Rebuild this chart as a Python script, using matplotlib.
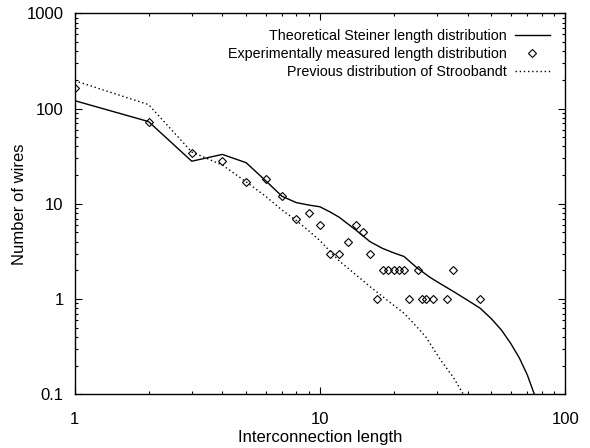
import matplotlib
matplotlib.use("Agg")
import matplotlib.pyplot as plt
from matplotlib.ticker import FuncFormatter, LogLocator

plt.rcParams['font.family'] = ['Liberation Sans', 'DejaVu Sans']

# Theoretical Steiner length distribution
theo_x = [1, 2, 3, 4, 5, 6, 7, 8, 9, 10, 11, 12, 14, 16, 18, 20, 22, 25, 28, 30,
          35, 40, 45, 50, 55, 60, 65, 70, 75, 80]
theo_y = [121, 73, 28, 33, 27, 17.5, 12, 10.3, 9.7, 9.3, 8.2, 7.2, 5.3, 4.0, 3.4, 3.05,
          2.8, 2.1, 1.7, 1.52, 1.2, 0.97, 0.8, 0.62, 0.47, 0.34, 0.24, 0.16, 0.098, 0.06]

# Experimentally measured length distribution
exp_x = [1, 2, 3, 4, 5, 6, 7, 8, 9, 10, 11, 12, 13, 14, 15, 16, 17, 18, 19, 20, 21, 22,
         23, 25, 26, 27, 29, 33, 35, 45]
exp_y = [165, 73, 34, 28, 17, 18, 12, 7, 8, 6, 3, 3, 4, 6, 5, 3, 1, 2, 2, 2, 2, 2,
         1, 2, 1, 1, 1, 1, 2, 1]

# Previous distribution of Stroobandt
prev_x = [1, 2, 3, 4, 5, 6, 7, 8, 9, 10, 12, 14, 16, 19, 22, 25, 27, 31, 35, 38.4, 42]
prev_y = [196, 110, 35, 25.5, 17, 12, 8.6, 6.7, 5.2, 4.1, 2.5, 1.8, 1.35, 0.95, 0.71,
          0.5, 0.4, 0.23, 0.15, 0.1, 0.065]

fig = plt.figure(figsize=(5.9, 4.48), dpi=100)
ax = fig.add_axes([74.7 / 590, 1 - 394.3 / 448, (565.3 - 74.7) / 590, (394.3 - 13.3) / 448])

ax.plot(theo_x, theo_y, color='black', lw=1.0, label='Theoretical Steiner length distribution')
ax.plot(exp_x, exp_y, ls='none', marker='D', ms=4.3, mfc='none', mec='black', mew=0.8,
        label='Experimentally measured length distribution')
ax.plot(prev_x, prev_y, color='black', lw=1.0, ls=(0, (1, 2)),
        label='Previous distribution of Stroobandt')

ax.set_xscale('log')
ax.set_yscale('log')
ax.set_xlim(1, 100)
ax.set_ylim(0.1, 1000)

fmt = FuncFormatter(lambda v, p: '%g' % v)
ax.xaxis.set_major_formatter(fmt)
ax.yaxis.set_major_formatter(fmt)
ax.xaxis.set_minor_locator(LogLocator(base=10, subs=range(2, 10)))
ax.yaxis.set_minor_locator(LogLocator(base=10, subs=range(2, 10)))
ax.xaxis.set_minor_formatter(plt.NullFormatter())
ax.yaxis.set_minor_formatter(plt.NullFormatter())

ax.tick_params(which='both', direction='in', top=True, right=True, labelsize=12)
ax.tick_params(which='major', length=5, width=0.8)
ax.tick_params(which='minor', length=2.5, width=0.8)
ax.tick_params(axis='x', which='major', pad=13)
ax.tick_params(axis='y', which='major', pad=8)

for s in ax.spines.values():
    s.set_linewidth(1.0)

ax.set_xlabel('Interconnection length', fontsize=12, labelpad=2)
ax.set_ylabel('Number of wires', fontsize=12, labelpad=0)

ax.legend(loc='upper right', bbox_to_anchor=(0.995, 0.993), frameon=False, markerfirst=False,
          fontsize=10.3, handlelength=2.45, handletextpad=0.55, labelspacing=0.3,
          numpoints=1)

fig.savefig('out.png', dpi=100)
